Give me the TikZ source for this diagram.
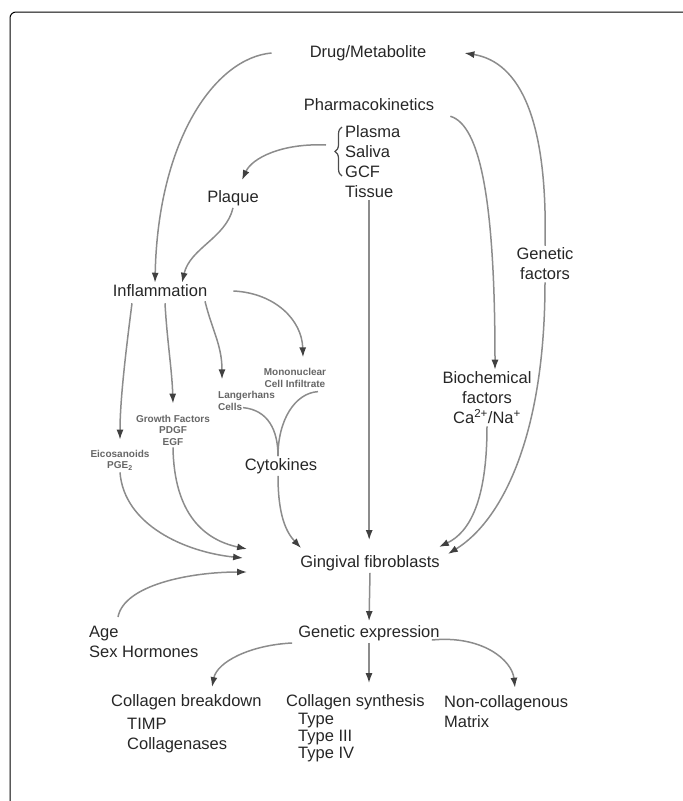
\documentclass[tikz,border=0pt]{standalone}
\usepackage{fontspec}
\setmainfont{Liberation Sans}
\usepackage{tikz}
\usetikzlibrary{arrows.meta, positioning, decorations.pathreplacing}

\begin{document}
\begin{tikzpicture}[x=1pt, y=-1pt,
  every node/.style={inner sep=2pt, text=black!85,
    font=\fontsize{16.5}{20}\selectfont},
  smalltxt/.style={font=\fontsize{10}{11.5}\selectfont\bfseries,
    text=black!60},
  arr/.style={draw=black!45, line width=1.5pt,
    -{Latex[length=10pt,width=7pt,color=black!75]}},
  link/.style={draw=black!45, line width=1.5pt}]
          \useasboundingbox (0,0) rectangle (683,801);%
          \draw [line width=1pt, rounded corners=6pt] (10,12) rectangle
          (690,840);%

          \node (drug) at (368,53) {Drug/Metabolite};%
          \node (pharm) at (369,105) {Pharmacokinetics};%
          \node [anchor=west] (plasma) at (343,132) {Plasma};%
          \node [anchor=west] (saliva) at (343,152) {Saliva};%
          \node [anchor=west] (gcf) at (343,172) {GCF};%
          \node [anchor=west] (tissue) at (343,192) {Tissue};%
          \draw [decorate, decoration={brace, amplitude=7pt}, line width=1.2pt,
          black!70] (342,176) -- (342,127);%
          \coordinate (btip) at (326,145);%
          \node (plaque) at (233,198) {Plaque};%
          \node (infl) at (160,291) {Inflammation};%
          \node [align=center] (genetic) at (545,264) {Genetic\\factors};%
          \node [align=center] (biochem) at (487,398)
          {Biochemical\\factors\\Ca\textsuperscript{2+}/Na\textsuperscript{+}};%
          \node [smalltxt, align=center] (mono) at (295,378)
          {Mononuclear\\Cell Infiltrate};%
          \node [smalltxt, align=left, anchor=west] (langer) at (216,401)
          {Langerhans\\Cells};%
          \node [smalltxt, align=center] (growth) at (173,430)
          {Growth Factors\\PDGF\\EGF};%
          \node [smalltxt, align=center] (eico) at (120,460)
          {Eicosanoids\\PGE\textsubscript{2}};%
          \node (cyto) at (281,466) {Cytokines};%
          \node (fibro) at (370,563) {Gingival fibroblasts};%
          \node [align=left, anchor=west] (age) at (87,642)
          {Age\\Sex Hormones};%
          \node (genexp) at (369,633) {Genetic expression};%
          \node [anchor=west] (breakdown) at (109,702) {Collagen breakdown};%
          \node [align=left, anchor=west] (inhib) at (125,736)
          {TIMP\\Collagenases};%
          \node [anchor=west] (synth) at (284,702) {Collagen synthesis};%
          \node [align=left, anchor=west, font=\fontsize{16.5}{17}\selectfont]
          (types) at (296,738) {Type\\Type III\\Type IV};%
          \node [align=left, anchor=west] (noncoll) at (442,712)
          {Non-collagenous\\Matrix};%

          \draw [arr] ([xshift=-36pt]drug.west) .. controls (215,58) and
          (158,140) .. ([xshift=-5pt]infl.north);%
          \draw [arr] ([xshift=14pt,yshift=-3pt]pharm.south east) .. controls
          (480,125) and (495,200) .. ([xshift=8pt]biochem.north);%
          \draw [arr] (genetic.north) .. controls (548,120) and (520,62) ..
          ([xshift=36pt]drug.east);%
          \draw [arr] (genetic.south) .. controls (545,440) and (500,522) ..
          ([xshift=6pt,yshift=9pt]fibro.east);%
          \draw [arr] (biochem.south) .. controls (487,500) and (470,532) ..
          ([xshift=-3pt,yshift=16pt]fibro.east);%
          \draw [arr, shorten >=13pt] (tissue.south) -- (tissue.south |-
          fibro.north);%

          \draw [arr] (btip) .. controls (282,143) and (252,158) ..
          ([xshift=9pt,yshift=8pt]plaque.north);%
          \draw [arr] (plaque.south) .. controls (226,238) and (190,248) ..
          ([xshift=22pt]infl.north);%

          \draw [arr] ([xshift=-28pt,yshift=-4pt]infl.south) .. controls
          (126,350) and (120,400) .. ([yshift=8pt]eico.north);%
          \draw [arr] ([xshift=5pt,yshift=-4pt]infl.south) .. controls
          (167,340) and (172,370) .. ([yshift=9pt]growth.north);%
          \draw [arr] ([xshift=45pt,yshift=-2pt]infl.south) .. controls
          (212,330) and (222,345) .. ([xshift=6pt,yshift=10pt]langer.north
          west);%
          \draw [arr] ([xshift=24pt]infl.east) .. controls (275,293) and
          (302,320) .. ([xshift=8pt,yshift=9pt]mono.north);%

          \draw [link] ([xshift=27pt,yshift=5pt]langer.south west) .. controls
          (268,410) and (278,430) .. ([xshift=-3pt]cyto.north);%
          \draw [link] ([xshift=23pt,yshift=-2pt]mono.south) .. controls
          (295,393) and (278,420) .. ([xshift=-3pt]cyto.north);%

          \draw [arr] ([xshift=-3pt]cyto.south) .. controls (278,515) and
          (286,532) .. ([xshift=3pt,yshift=5pt]fibro.north west);%
          \draw [arr] (eico.south) .. controls (124,525) and (185,552) ..
          ([xshift=-55pt,yshift=5pt]fibro.west);%
          \draw [arr] (growth.south) .. controls (174,515) and (205,540) ..
          ([xshift=-51pt,yshift=14pt]fibro.west);%
          \draw [arr] ([xshift=31pt,yshift=7pt]age.north west) .. controls
          (124,585) and (190,572) .. ([xshift=-51pt,yshift=-9pt]fibro.west);%

          \draw [arr, shorten >=2pt] (fibro.south) -- (genexp.north);%
          \draw [arr] ([xshift=-4pt,yshift=-10pt]genexp.west) .. controls
          (250,645) and (217,662) .. ([xshift=103pt,yshift=5pt]breakdown.north
          west);%
          \draw [arr, shorten >=9pt] (genexp.south) -- (genexp.south |-
          synth.north);%
          \draw [arr] ([xshift=-10pt,yshift=-7pt]genexp.east) .. controls
          (482,635) and (512,660) .. ([xshift=73pt,yshift=6pt]noncoll.north
          west);%
        \end{tikzpicture}
\end{document}
